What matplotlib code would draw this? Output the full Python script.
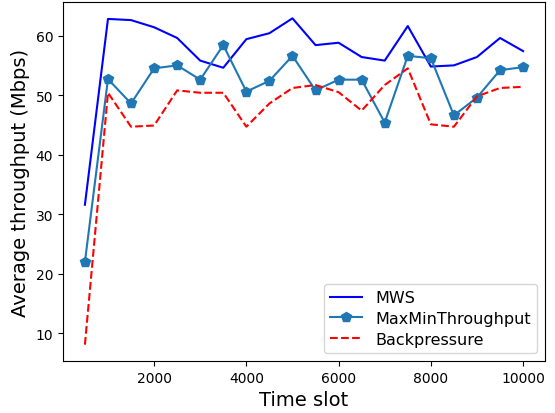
import matplotlib
matplotlib.use("Agg")
import matplotlib.pyplot as plt

time_slots = list(range(500, 10001, 500))
mws = [31.6, 62.8, 62.6, 61.4, 59.6, 55.8, 54.6, 59.4, 60.4, 62.9,
       58.4, 58.8, 56.4, 55.8, 61.6, 54.8, 55.0, 56.4, 59.6, 57.4]
maxmin = [22.0, 52.7, 48.6, 54.5, 55.0, 52.6, 58.4, 50.6, 52.4, 56.6,
          50.8, 52.6, 52.6, 45.4, 56.6, 56.2, 46.6, 49.6, 54.2, 54.7]
backpressure = [8.1, 50.4, 44.7, 44.9, 50.8, 50.4, 50.4, 44.7, 48.6, 51.2,
                51.7, 50.5, 47.4, 51.7, 54.5, 45.1, 44.7, 49.8, 51.2, 51.4]

fig = plt.figure(figsize=(5.55, 4.14), dpi=100)
ax = fig.add_axes([63 / 555, 1 - 362 / 414, (545 - 63) / 555, (362 - 3) / 414])

ax.plot(time_slots, mws, "b-", label="MWS")
ax.plot(time_slots, maxmin, color="tab:blue", marker="p", markersize=7,
        label="MaxMinThroughput")
ax.plot(time_slots, backpressure, "r--", label="Backpressure")

ax.set_xlabel("Time slot", fontsize=14)
ax.set_ylabel("Average throughput (Mbps)", fontsize=14)
ax.legend(loc="lower right", fontsize=11.5, labelspacing=0.35)

fig.savefig("out.png", dpi=100)
